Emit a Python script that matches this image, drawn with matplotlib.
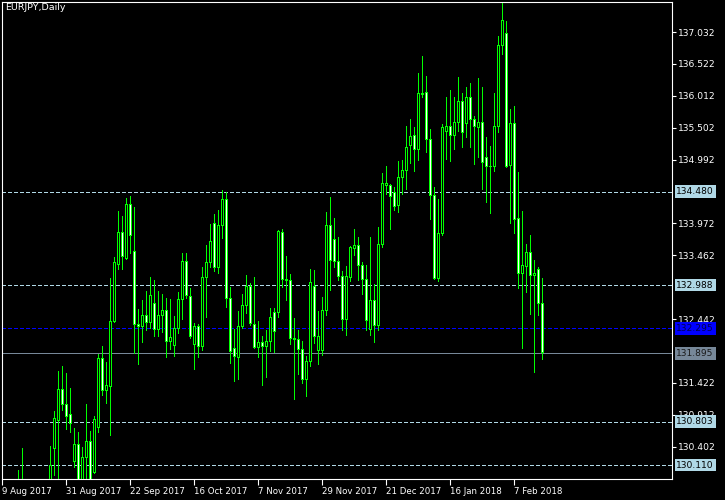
import numpy as np
import matplotlib
matplotlib.use("Agg")
import matplotlib.pyplot as plt
import matplotlib.transforms as mtransforms

nan = np.nan
# Daily EURJPY candles, bar index 4..135 (bar 0 = 9 Aug 2017)
start_index = 4
opens = [129.70, 129.80, nan, nan, nan, nan, nan, nan,
         129.80, 130.377, 130.825, 131.321, 131.081, 130.921, 130.163, 130.441, 129.80, 130.234,
         130.486, 129.987, 130.713, 131.816, 131.305, 131.362, 132.401, 133.319, 133.830, 133.408,
         134.278, 133.527, 132.360, 132.321, 132.504, 132.385, 132.695, 132.280, 132.504, 132.584,
         132.082, 132.018, 132.296, 132.759, 133.367, 132.807, 132.040, 132.321, 132.008, 133.111,
         133.351, 133.974, 133.271, 133.942, 134.358, 132.775, 131.976, 131.832, 132.328, 132.663,
         132.967, 132.360, 131.992, 132.072, 132.008, 132.088, 132.552, 132.552, 133.830, 133.079,
         133.063, 132.136, 132.120, 131.960, 131.480, 131.768, 132.967, 131.944, 131.944, 132.584,
         133.942, 133.718, 133.367, 133.127, 132.440, 133.111, 133.575, 133.623, 133.303, 133.079,
         132.269, 132.748, 132.348, 133.639, 134.575, 134.575, 134.470, 134.262, 134.710, 134.822,
         135.221, 135.381, 135.157, 136.053, 136.069, 135.317, 134.422, 133.089, 133.814, 135.445,
         135.525, 135.381, 135.589, 135.925, 135.573, 135.989, 135.637, 135.509, 135.589, 135.029,
         134.886, 134.886, 135.525, 136.820, 137.012, 134.895, 135.573, 134.054, 133.175, 133.287,
         133.511, 133.143, 133.239, 132.695]
highs = [130.031, 130.382, nan, nan, nan, nan, nan, nan,
         130.414, 130.974, 131.608, 131.688, 131.581, 131.337, 130.697, 130.638, 130.394, 131.081,
         130.649, 130.894, 131.885, 132.013, 131.762, 133.095, 133.431, 134.171, 134.091, 134.374,
         134.411, 134.230, 132.600, 132.748, 132.892, 133.116, 133.068, 132.892, 132.839, 132.775,
         132.764, 132.488, 132.871, 133.500, 133.495, 132.940, 132.376, 132.364, 133.276, 133.627,
         133.963, 134.123, 134.187, 134.507, 134.480, 132.956, 132.285, 132.572, 132.844, 133.143,
         133.015, 133.111, 132.412, 132.168, 132.264, 132.615, 132.615, 133.862, 133.878, 133.447,
         133.159, 132.456, 132.269, 132.088, 131.848, 133.239, 133.223, 132.577, 132.791, 134.150,
         134.390, 134.054, 133.750, 133.207, 133.287, 133.607, 133.878, 133.750, 133.351, 133.308,
         133.760, 133.004, 133.910, 134.774, 134.890, 134.603, 134.550, 134.970, 134.981, 135.530,
         135.642, 135.509, 136.377, 136.649, 136.329, 135.477, 134.550, 134.358, 135.557, 135.989,
         136.100, 135.989, 136.308, 136.053, 136.148, 136.212, 135.690, 136.292, 136.148, 135.349,
         135.205, 136.053, 136.964, 137.496, 137.204, 135.802, 135.850, 134.790, 134.171, 133.639,
         133.783, 133.383, 133.271, 133.095]
lows = [129.40, 129.50, nan, nan, nan, nan, nan, nan,
        129.70, 129.951, 129.80, 130.990, 130.691, 130.643, 130.079, 129.75, 129.70, 129.85,
        129.75, 129.978, 130.643, 131.230, 131.097, 130.590, 132.390, 133.239, 133.249, 133.399,
        133.495, 131.896, 131.728, 132.077, 132.269, 132.296, 132.178, 132.178, 132.232, 131.832,
        131.960, 131.858, 132.226, 132.444, 132.785, 132.136, 131.650, 131.832, 131.944, 132.472,
        133.281, 133.207, 133.175, 133.744, 132.641, 131.746, 131.449, 131.490, 132.300, 132.545,
        132.350, 131.980, 131.832, 131.385, 131.512, 131.928, 131.922, 132.472, 132.961, 132.753,
        132.040, 131.161, 131.560, 131.426, 131.218, 131.688, 132.056, 131.720, 131.864, 132.513,
        132.903, 133.271, 133.063, 132.264, 132.184, 133.047, 133.463, 133.063, 132.839, 132.269,
        132.188, 132.077, 132.269, 133.591, 134.438, 133.888, 134.192, 134.160, 134.448, 134.527,
        134.934, 134.806, 134.991, 135.989, 135.119, 134.048, 133.079, 133.047, 133.783, 135.007,
        134.975, 135.157, 135.445, 135.189, 135.349, 135.199, 134.918, 135.039, 134.527, 134.320,
        134.134, 134.806, 135.429, 136.676, 134.880, 133.974, 133.814, 132.935, 131.976, 132.881,
        132.520, 131.592, 132.504, 131.800]
closes = [129.60, 129.70, nan, nan, nan, nan, nan, nan,
          130.102, 130.851, 131.321, 131.081, 130.889, 130.777, 130.441, 129.85, 130.234, 130.486,
          129.85, 130.841, 131.816, 131.305, 131.378, 132.401, 133.351, 133.830, 133.440, 134.278,
          133.783, 132.353, 132.321, 132.504, 132.385, 132.823, 132.280, 132.504, 132.584, 132.082,
          132.152, 132.296, 132.759, 133.367, 132.823, 132.168, 132.321, 132.013, 133.111, 133.351,
          133.687, 133.271, 133.942, 134.358, 132.775, 131.928, 131.848, 132.328, 132.663, 132.967,
          132.376, 131.992, 132.072, 132.008, 132.088, 132.476, 132.248, 133.846, 133.079, 133.063,
          132.136, 132.120, 131.960, 131.480, 131.768, 133.031, 132.168, 132.168, 132.584, 133.942,
          133.383, 133.367, 133.127, 132.440, 133.127, 133.591, 133.623, 133.303, 133.079, 132.428,
          132.748, 132.348, 133.639, 134.614, 134.614, 134.406, 134.246, 134.710, 134.822, 135.189,
          135.365, 135.157, 136.053, 136.037, 135.317, 134.422, 133.089, 133.814, 135.509, 135.525,
          135.381, 135.589, 135.925, 135.429, 135.989, 135.637, 135.525, 135.589, 134.950, 134.886,
          134.886, 135.525, 136.820, 137.220, 134.886, 135.573, 134.038, 133.175, 133.303, 133.511,
          133.143, 133.175, 132.695, 131.906]

date_labels = ["9 Aug 2017", "31 Aug 2017", "22 Sep 2017", "16 Oct 2017", "7 Nov 2017",
               "29 Nov 2017", "21 Dec 2017", "16 Jan 2018", "7 Feb 2018"]
bars_per_label = 16

price_ticks = [137.032, 136.522, 136.012, 135.502, 134.992, 133.972, 133.462,
               132.442, 131.422, 130.912, 130.402]
level_lines = [134.480, 132.988, 130.803, 130.110]
blue_level = 132.295
bid_price = 131.895
symbol_title = "EURJPY,Daily"

GREEN = "#00FF00"
LEVEL_C = "#B0D8E6"

W, H = 725, 500
AX_L, AX_R, AX_T, AX_B = 2, 672, 2, 479
fig = plt.figure(figsize=(W / 100, H / 100), dpi=100, facecolor="black")
ax = fig.add_axes([AX_L / W, (H - AX_B) / H, (AX_R - AX_L) / W, (AX_B - AX_T) / H])
ax.set_facecolor("black")

XLIM = (-0.08, 167.42)
YLIM = (129.887, 137.512)
ax.set_xlim(*XLIM)
ax.set_ylim(*YLIM)
px_x = (XLIM[1] - XLIM[0]) / (AX_R - AX_L)     # data units per pixel (x)
px_y = (YLIM[1] - YLIM[0]) / (AX_B - AX_T)     # data units per pixel (y)

o = np.array(opens); h = np.array(highs); l = np.array(lows); c = np.array(closes)
x = np.arange(start_index, start_index + len(o))
m = ~np.isnan(o)
xm, om, hm, lm, cm = x[m], o[m], h[m], l[m], c[m]

# wicks
ax.vlines(xm, lm, hm, colors=GREEN, lw=0.72, antialiased=False, zorder=3)
# body outline: solid green block 3px wide
top = np.maximum(om, cm)
bot = np.minimum(om, cm)
ax.bar(xm, (top - bot) + px_y, bottom=bot - px_y / 2, width=3 * px_x, color=GREEN,
       linewidth=0, antialiased=False, zorder=4)
# body interior 1px wide: black for bull, white for bear
inner_h = (top - bot) - px_y
sel = inner_h > 0.4 * px_y
fills = np.where(cm >= om, "black", "white")
ax.bar(xm[sel], inner_h[sel], bottom=(bot + px_y / 2)[sel], width=1 * px_x,
       color=fills[sel], linewidth=0, antialiased=False, zorder=5)

for lv in level_lines:
    ax.axhline(lv, color=LEVEL_C, lw=0.72, ls=(0, (4, 2.5)), zorder=2, antialiased=False)
ax.axhline(blue_level, color="#0000FF", lw=0.72, ls=(0, (4, 2.5)), zorder=2, antialiased=False)
ax.axhline(bid_price, color="#778899", lw=0.72, zorder=2, antialiased=False)

for s in ax.spines.values():
    s.set_color("white")
    s.set_linewidth(0.8)

ax.yaxis.tick_right()
ax.set_yticks(price_ticks)
ax.set_yticklabels([f"{p:.3f}" for p in price_ticks])
ax.tick_params(axis="y", colors="white", labelcolor="white", labelsize=6.6, length=3,
               width=0.8, direction="out", pad=1.5)
xt = [i * bars_per_label for i in range(len(date_labels))]
ax.set_xticks(xt)
ax.set_xticklabels(date_labels, ha="left")
ax.tick_params(axis="x", colors="white", labelcolor="white", labelsize=6.2, length=4,
               width=0.8, direction="out", pad=1.5)

trans = mtransforms.blended_transform_factory(ax.transAxes, ax.transData)
boxes = [(lv, LEVEL_C, "black") for lv in level_lines] + \
        [(blue_level, "#0000FF", "#000050"), (bid_price, "#778899", "#1a1a1a")]
for val, bg, fg in boxes:
    ax.annotate(f"{val:.3f}", xy=(1.0, val), xycoords=trans, xytext=(3.2, 0),
                textcoords="offset points", va="center", ha="left", fontsize=6.6,
                color=fg, annotation_clip=False, zorder=10,
                bbox=dict(boxstyle="square,pad=0.2", fc=bg, ec="none"))

ax.text(0.004, 0.997, symbol_title, transform=ax.transAxes, color="white",
        fontsize=6.8, va="top", ha="left")

fig.savefig("out.png", dpi=100, facecolor="black")
